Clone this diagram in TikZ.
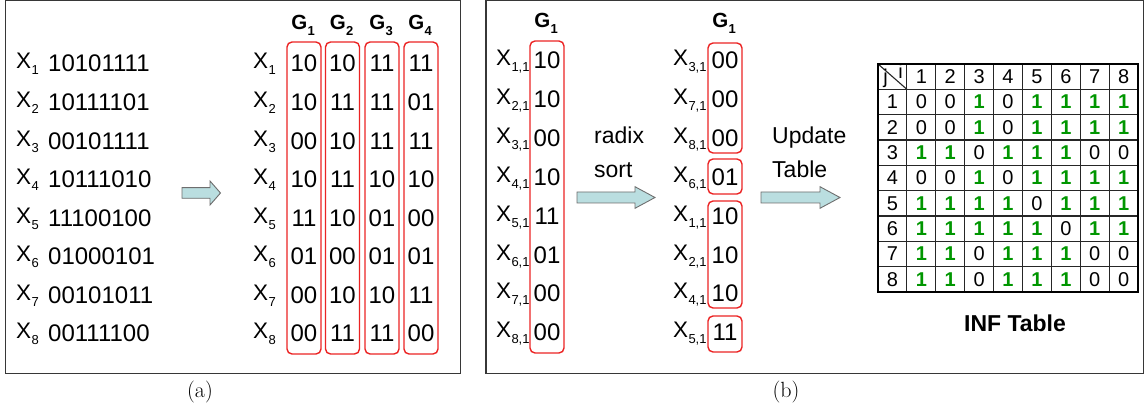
\documentclass[tikz,border=0pt]{standalone}
\usepackage{fontspec}
\newfontfamily\arial{Liberation Sans}
\definecolor{boxred}{RGB}{235,35,35}
\definecolor{arrowfill}{RGB}{186,222,224}
\definecolor{arrowline}{RGB}{110,110,110}
\definecolor{framegray}{RGB}{55,55,55}
\definecolor{onegreen}{RGB}{0,150,0}
\newcommand\Xs[1]{X\kern0.3pt\raisebox{-6pt}{\fontsize{13}{13}\selectfont #1}}
\newcommand\Gs[1]{G\kern0.3pt\raisebox{-6pt}{\fontsize{13}{13}\selectfont #1}}
\begin{document}
\begin{tikzpicture}[x=1pt,y=-1pt,
  lbl/.style={inner sep=0, anchor=base west, font=\arial\fontsize{22.5}{22}\selectfont},
  bits/.style={inner sep=0, anchor=base west, font=\arial\fontsize{24}{24}\selectfont},
  val/.style={inner sep=0, anchor=base, font=\arial\fontsize{24}{24}\selectfont},
  ghead/.style={inner sep=0, anchor=base, font=\arial\bfseries\fontsize{20.5}{20}\selectfont},
  word/.style={inner sep=0, anchor=base west, font=\arial\fontsize{23}{23}\selectfont},
  rbox/.style={draw=boxred, line width=1.4pt, rounded corners=5pt, inner sep=0},
  blockarrow/.style={draw=arrowline, fill=arrowfill, line width=0.9pt, line join=miter},
  panelframe/.style={draw=framegray, line width=1.3pt},
  captxt/.style={inner sep=0, font=\fontsize{22}{22}\selectfont},
  tline/.style={draw=black!85, line width=1.1pt},
  tcell/.style={inner sep=0, font=\arial\fontsize{20}{20}\selectfont},
]
\useasboundingbox (0,0) rectangle (1144,417);

% ---------- frames ----------
\draw[panelframe] (5.5,0.6) rectangle (460.5,373.5);
\draw[panelframe] (486,0.6) rectangle (1143.3,373.5);
\node[captxt] (capa) at (200,392) {(a)};
\node[captxt] (capb) at (786,392) {(b)};

% ---------- panel (a) left ----------
\foreach \b [count=\i] in {10101111,10111101,00101111,10111010,11100100,01000101,00101011,00111100}{
  \node[lbl] (ax\i) at (16,{69+(\i-1)*38.57}) {\Xs{\i}};
  \node[bits] (ab\i) at (48,{72+(\i-1)*38.57}) {\b};
}
\draw[blockarrow] (182,187.7) -- (210,187.7) -- (210,181) -- (220.5,193) -- (210,205) -- (210,198.3) -- (182,198.3) -- cycle;

% ---------- panel (a) right ----------
\foreach \cx [count=\k] in {304,342.5,382,421}{
  \node[rbox, minimum width=34pt, minimum height=312pt] (agbox\k) at (\cx,198) {};
  \node[ghead] (agh\k) at (\cx-1,30) {\Gs{\k}};
}
\foreach \p/\q/\r/\s [count=\i] in {10/10/11/11,10/11/11/01,00/10/11/11,10/11/10/10,11/10/01/00,01/00/01/01,00/10/10/11,00/11/11/00}{
  \node[lbl] (axr\i) at (253,{69+(\i-1)*38.57}) {\Xs{\i}};
  \node[val] (av\i-1) at (304,{72+(\i-1)*38.57}) {\p};
  \node[val] (av\i-2) at (342.5,{72+(\i-1)*38.57}) {\q};
  \node[val] (av\i-3) at (382,{72+(\i-1)*38.57}) {\r};
  \node[val] (av\i-4) at (421,{72+(\i-1)*38.57}) {\s};
}

% ---------- panel (b) left column ----------
\node[rbox, minimum width=34pt, minimum height=312pt] (bbox) at (547,197) {};
\node[ghead] (bgh1) at (546,28) {\Gs{1}};
\foreach \v [count=\i] in {10,10,00,10,11,01,00,00}{
  \node[lbl] (bx\i) at (496,{66+(\i-1)*38.8}) {\Xs{\i,1}};
  \node[val] (bv\i) at (547,{69+(\i-1)*38.8}) {\v};
}
\node[word] (radix) at (594,144) {radix};
\node[word] (sort) at (594,178) {sort};
\draw[blockarrow] (577,192) -- (635,192) -- (635,186.7) -- (655,197.5) -- (635,208.3) -- (635,203) -- (577,203) -- cycle;

% ---------- panel (b) sorted column ----------
\node[ghead] (bgh2) at (724,28) {\Gs{1}};
\foreach \n/\v [count=\i] in {3/00,7/00,8/00,6/01,1/10,2/10,4/10,5/11}{
  \node[lbl] (sx\i) at (673,{66+(\i-1)*38.8}) {\Xs{\n,1}};
  \node[val] (sv\i) at (725,{69+(\i-1)*38.8}) {\v};
}
\node[rbox, minimum width=34pt, minimum height=110pt] (sg1) at (725,98) {};
\node[rbox, minimum width=34pt, minimum height=35pt] (sg2) at (725,176.5) {};
\node[rbox, minimum width=34pt, minimum height=107pt] (sg3) at (725,254.5) {};
\node[rbox, minimum width=34pt, minimum height=36pt] (sg4) at (725,334) {};

\node[word] (update) at (772,144) {Update};
\node[word] (table) at (772,178) {Table};
\draw[blockarrow] (761,192) -- (820,192) -- (820,186.7) -- (840,197.5) -- (820,208.3) -- (820,203) -- (761,203) -- cycle;

% ---------- INF table ----------
\foreach \k in {1,...,8}{
  \draw[tline] ({878+\k*28.9},64) -- ({878+\k*28.9},292);
  \draw[tline] (878,{64+\k*25.33}) -- (1138,{64+\k*25.33});
}
\draw[tline] (878,64) -- (906.9,89.33);
\draw[black, line width=2.6pt] (878,64) rectangle (1138,292);
\node[tcell, font=\arial\fontsize{20}{20}\selectfont, anchor=base] (tj) at (885.5,84) {j};
\node[tcell, font=\arial\fontsize{20}{20}\selectfont, anchor=base] (ti) at (900.5,79) {i};
\foreach \k in {1,...,8}{
  \node[tcell] (th\k) at ({878+(\k+0.5)*28.9},{64+0.5*25.33}) {\k};
  \node[tcell] (tr\k) at ({878+0.5*28.9},{64+(\k+0.5)*25.33}) {\k};
}
\foreach \row [count=\r] in {{0,0,1,0,1,1,1,1},{0,0,1,0,1,1,1,1},{1,1,0,1,1,1,0,0},{0,0,1,0,1,1,1,1},{1,1,1,1,0,1,1,1},{1,1,1,1,1,0,1,1},{1,1,0,1,1,1,0,0},{1,1,0,1,1,1,0,0}}{
  \foreach \v [count=\c] in \row {
    \node[tcell] (t\r-\c) at ({878+(\c+0.5)*28.9},{64+(\r+0.5)*25.33}) {\ifnum\v=1 \textcolor{onegreen}{\bfseries 1}\else 0\fi};
  }
}
\node[inner sep=0, font=\arial\bfseries\fontsize{23}{23}\selectfont] (inf) at (1015,323) {INF Table};
\end{tikzpicture}
\end{document}
